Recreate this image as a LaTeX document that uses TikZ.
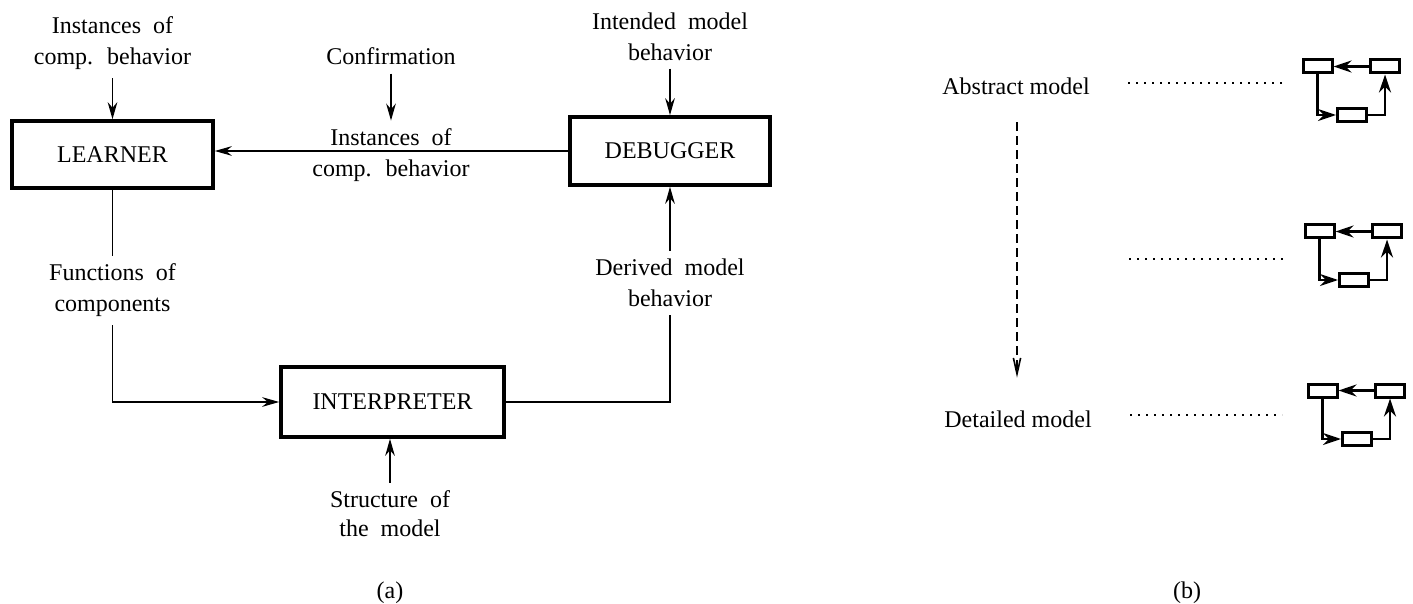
\documentclass[tikz,border=0pt]{standalone}
\usepackage{fontspec}
\setmainfont{Liberation Serif}
\usetikzlibrary{arrows.meta}
\newcommand\wsp{\spaceskip=6pt plus 1pt minus 1pt\relax}
\tikzset{
  blk/.style={draw, line width=1.8pt, inner sep=0pt, font=\fontsize{12}{15}\selectfont},
  lab/.style={align=center, inner xsep=2pt, inner ysep=4pt, anchor=north, font=\fontsize{12}{15.5}\selectfont\wsp},
  plain/.style={inner sep=0pt, font=\fontsize{12}{15}\selectfont, text height=8.2pt, text depth=0pt},
  conn/.style={line width=0.95pt},
  arr/.style={conn, -{Stealth[length=8.5pt,width=4.8pt,inset=2.8pt]}},
  dasharr/.style={line width=0.8pt, dash pattern=on 4.5pt off 2.5pt, -{Straight Barb[length=8pt,width=3.6pt,line width=0.8pt]}},
  dotline/.style={line width=1pt, dash pattern=on 0.9pt off 3.1pt},
  mbox/.style={draw, line width=1.5pt, inner sep=0pt, minimum width=14.5pt, minimum height=6.5pt},
  marr/.style={line width=1.3pt, -{Stealth[length=9pt,width=6pt,inset=3pt]}},
  mini/.pic={
    \node[mbox] (-a) at (14.5,6.5) {};
    \node[mbox] (-b) at (82,6.5) {};
    \node[mbox] (-c) at (49,55) {};
    \draw[marr] (-b) -- (-a);
    \draw[marr] (-a.south) |- (-c.west);
    \draw[marr] (-c.east) -| (-b.south);
  }
}
\begin{document}
\begin{tikzpicture}[x=0.5pt, y=-0.5pt]
\path[use as bounding box] (0,0) rectangle (1413,604);

% ---------- (a) ----------
\node[blk, minimum width=100.5pt, minimum height=33.5pt] (learner) at (112.5,154.5) {LEARNER};
\node[blk, minimum width=100pt, minimum height=34pt] (debugger) at (670,151) {DEBUGGER};
\node[blk, minimum width=111.5pt, minimum height=35pt] (interp) at (392.5,402) {INTERPRETER};

\node[lab] (lin) at (112.5,8.6) {Instances of\\comp. behavior};
\node[lab] (conf) at (391,39.6) {Confirmation};
\node[lab] (intended) at (670,4) {Intended model\\behavior};
\node[lab] (mid) at (391,120.6) {Instances of\\comp. behavior};
\node[lab] (func) at (112.5,255.6) {Functions of\\components};
\node[lab] (derived) at (670,250.6) {Derived model\\behavior};
\node[lab, font=\fontsize{12}{14.5}\selectfont\wsp] (struct) at (390,482.6) {Structure of\\the model};

\draw[arr] (lin.south) -- (learner.north);
\draw[arr] (conf.south) -- (mid.north);
\draw[arr] (intended.south) -- (debugger.north);
\draw[arr] (debugger.west) -- (debugger.west -| learner.east);
\draw[conn] (learner.south) -- (func.north);
\draw[arr] (func.south) |- (interp.west);
\draw[conn] (interp.east) -| (derived.south);
\draw[arr] (derived.north) -- (debugger.south);
\draw[arr] (struct.north) -- (struct.north |- interp.south);

\node[plain, anchor=base] (capa) at (390,598) {(a)};

% ---------- (b) ----------
\node[plain, anchor=base] (abs) at (1016,95) {Abstract model};
\node[plain, anchor=base] (det) at (1018,427) {Detailed model};
\draw[dasharr, shorten <=13.5pt, shorten >=16.3pt] (abs.south -| 1017,0) -- (det.north -| 1017,0);

\pic (m1) at (1303,60) {mini};
\pic (m2) at (1305,225) {mini};
\pic (m3) at (1308,384) {mini};

\coordinate (d1a) at (1128,83);  \coordinate (d1b) at (1282,83);
\coordinate (d2a) at (1129,259); \coordinate (d2b) at (1283,259);
\coordinate (d3a) at (1130,415); \coordinate (d3b) at (1282,415);
\draw[dotline] (d1a) -- (d1b);
\draw[dotline] (d2a) -- (d2b);
\draw[dotline] (d3a) -- (d3b);

\node[plain, anchor=base] (capb) at (1187,598) {(b)};
\end{tikzpicture}
\end{document}
